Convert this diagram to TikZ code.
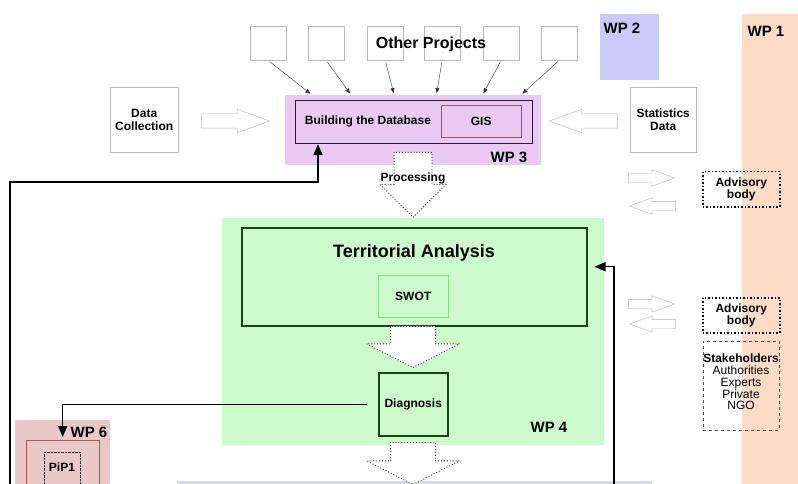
\documentclass[tikz,border=0pt]{standalone}
\usepackage{fontspec}
\setmainfont{Liberation Sans}
\usetikzlibrary{shapes.arrows,arrows.meta,calc}

\definecolor{wpone}{RGB}{252,220,198}
\definecolor{wptwo}{RGB}{202,202,248}
\definecolor{wpthree}{RGB}{234,202,242}
\definecolor{wpfour}{RGB}{204,250,204}
\definecolor{wpsix}{RGB}{234,200,200}
\definecolor{wpfive}{RGB}{216,216,232}
\definecolor{darkgreen}{RGB}{20,70,20}
\definecolor{darkpurple}{RGB}{50,20,60}

\tikzset{
  wparea/.style={draw=none, inner sep=0pt, anchor=north west},
  wplabel/.style={font=\bfseries\fontsize{15}{15}\selectfont},
  greybox/.style={draw=gray!55, fill=white, inner sep=0pt, anchor=north west},
  boxtext/.style={font=\bfseries\fontsize{12}{12.5}\selectfont, align=center},
  hollow/.style={single arrow, draw=gray!60, fill=white, inner xsep=0pt,
    single arrow tip angle=40, anchor=tip},
  dotarrow/.style={single arrow, draw=black!85, dotted, line width=0.9pt, fill=white,
    inner xsep=0pt, rotate=-90, anchor=tip},
  thinarrow/.style={-{Triangle[length=5pt,width=4pt]}, draw=black!80, thin},
  feedback/.style={-{Triangle[length=11pt,width=9pt]}, line width=1.6pt}
}

\begin{document}
\begin{tikzpicture}[x=1pt, y=-1pt]
  \useasboundingbox (0,0) rectangle (798,484);

  % --- work package areas ---
  \node[wparea, fill=wpone, minimum width=56pt, minimum height=470pt] (wp1) at (742,14) {};
  \node[wplabel] (wp1l) at (766,31) {WP 1};
  \node[wparea, fill=wptwo, minimum width=59pt, minimum height=66pt] (wp2) at (600,14) {};
  \node[wplabel] (wp2l) at (622,28) {WP 2};
  \node[wparea, fill=wpfive, minimum width=475pt, minimum height=4pt] (wp5) at (177,481) {};

  % --- other projects ---
  \foreach \i/\x in {1/250,2/308,3/367,4/424,5/483,6/541}
    \node[greybox, minimum width=36pt, minimum height=34pt] (op\i) at (\x,26) {};
  \node[font=\bfseries\fontsize{16}{16}\selectfont] (opl) at (431,44) {Other Projects};

  % --- WP 3 ---
  \node[wparea, fill=wpthree, minimum width=256pt, minimum height=70pt] (wp3) at (285,95) {};
  \node[wparea, draw=darkpurple, line width=1.2pt, minimum width=237pt, minimum height=43pt] (bdb) at (295,100) {};
  \node[boxtext] (bdbl) at (368,121) {Building the Database};
  \node[wparea, draw=gray!70!purple, minimum width=80pt, minimum height=32pt] (gis) at (441,105) {};
  \node[boxtext] at (gis.center) {GIS};
  \node[wplabel] (wp3l) at (509,157) {WP 3};
  \foreach \i/\f in {1/0.105,2/0.258,3/0.426,4/0.59,5/0.77,6/0.92}
    \draw[thinarrow, shorten <=2pt, shorten >=2pt] (op\i.south) -- ($(wp3.north west)!\f!(wp3.north east)$);

  % --- data sources ---
  \node[greybox, minimum width=68pt, minimum height=65pt] (dc) at (110,87) {};
  \node[boxtext] at (dc.center) {Data\\Collection};
  \node[greybox, minimum width=66pt, minimum height=65pt] (sd) at (630,87) {};
  \node[boxtext] at (sd.center) {Statistics\\Data};
  \node[hollow, minimum height=68pt, inner ysep=7pt, single arrow head extend=4.5pt] (dcarr) at (270,121) {};
  \node[hollow, minimum height=68pt, inner ysep=7pt, single arrow head extend=4.5pt, rotate=180] (sdarr) at (549,121) {};

  % --- processing ---
  \node[dotarrow, minimum height=65pt, inner ysep=18.5pt, single arrow head extend=14pt, single arrow tip angle=90] (proc) at (413,218) {};
  \node[boxtext] (procl) at (413,178) {Processing};

  % --- WP 4 ---
  \node[wparea, fill=wpfour, minimum width=382pt, minimum height=227pt] (wp4) at (222,218) {};
  \node[wparea, draw=darkgreen, line width=1.5pt, minimum width=345pt, minimum height=98pt] (ta) at (241,227) {};
  \node[font=\bfseries\fontsize{18}{18}\selectfont] (tal) at (414,253) {Territorial Analysis};
  \node[wparea, draw=gray!50!green!60, fill=wpfour, minimum width=70pt, minimum height=42pt] (swot) at (378,275) {};
  \node[boxtext] at (swot.center) {SWOT};
  \node[dotarrow, minimum height=41pt, inner ysep=22pt, single arrow head extend=24pt, single arrow tip angle=126] (taarr) at (413,368) {};
  \node[wparea, draw=darkgreen, line width=1.5pt, minimum width=69pt, minimum height=63pt] (diag) at (378,372) {};
  \node[boxtext] at (diag.center) {Diagnosis};
  \node[wplabel] (wp4l) at (549,427) {WP 4};
  \node[dotarrow, minimum height=42pt, inner ysep=22pt, single arrow head extend=24pt, single arrow tip angle=126] (diagarr) at (413,485) {};

  % --- WP 6 ---
  \node[wparea, fill=wpsix, minimum width=95pt, minimum height=64pt] (wp6) at (15,420) {};
  \node[wplabel] (wp6l) at (89,432) {WP 6};
  \node[wparea, draw=gray!70!red, minimum width=73pt, minimum height=50pt] (wp6in) at (26,440) {};
  \node[wparea, draw=black!80, densely dotted, minimum width=36pt, minimum height=40pt] (pip) at (44,452) {};
  \node[boxtext] at (62,467) {PiP1};

  % --- right side: advisory bodies and stakeholders ---
  \foreach \n/\x/\y/\r in {a/675/178/0,b/629/206/180,c/675/304/0,d/629/324/180}
    \node[hollow, minimum height=46pt, inner ysep=4.5pt, single arrow head extend=3.5pt, rotate=\r] (side\n) at (\x,\y) {};
  \node[wparea, draw=black, line width=1.5pt, dotted, minimum width=77pt, minimum height=35pt] (adv1) at (702,171) {};
  \node[boxtext] at (adv1.center) {Advisory\\body};
  \node[wparea, draw=black, line width=1.5pt, dotted, minimum width=77pt, minimum height=35pt] (adv2) at (702,297) {};
  \node[boxtext] at (adv2.center) {Advisory\\body};
  \node[wparea, draw=black!70, dashed, thin, minimum width=76pt, minimum height=89pt] (stake) at (703,341) {};
  \node[align=center, font=\fontsize{12}{11.8}\selectfont] (stakel) at (741,382) {\textbf{Stakeholders}\\Authorities\\Experts\\Private\\NGO};

  % --- feedback loops ---
  \coordinate (loopL) at (10,484);
  \coordinate (loopA) at (318,182);
  \coordinate (loopR) at (614,484);
  \draw[feedback] (loopL) |- (loopA) -- (bdb.south -| loopA);
  \draw[feedback, line width=1.4pt, shorten <=11pt, shorten >=3pt] (diag.west) -| (wp6in.north);
  \draw[feedback, line width=1.4pt, shorten >=7pt] (loopR) |- ([yshift=10pt]ta.east);
\end{tikzpicture}
\end{document}
